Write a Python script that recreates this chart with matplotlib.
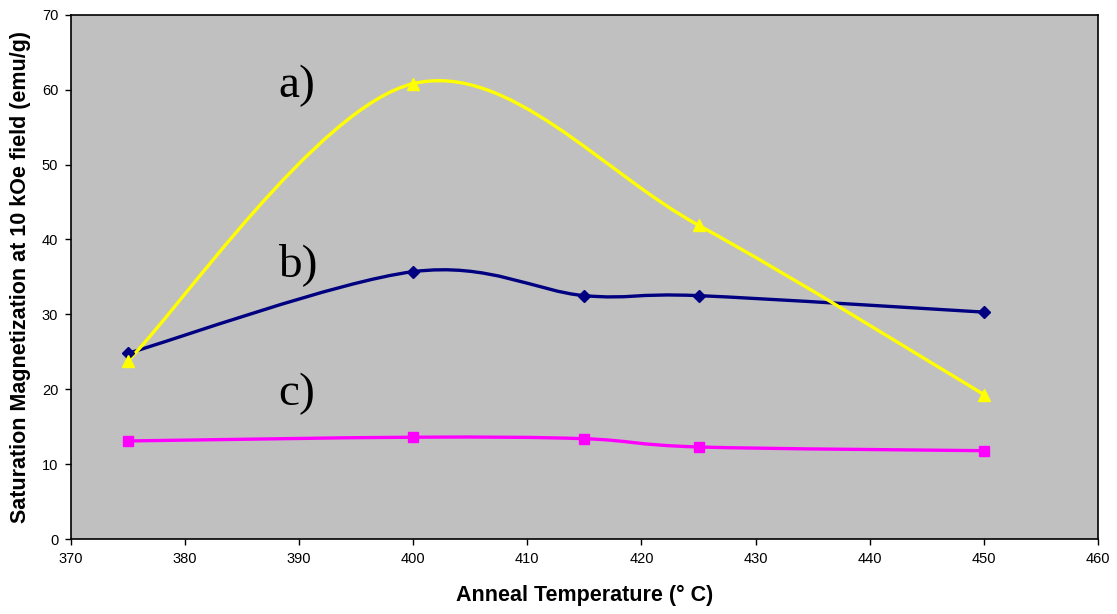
import matplotlib
matplotlib.use("Agg")
import matplotlib.pyplot as plt
from matplotlib.path import Path
from matplotlib.patches import PathPatch

# values
temp_a = [375, 400, 425, 450]
mag_a = [23.8, 60.8, 41.9, 19.3]

temp_b = [375, 400, 415, 425, 450]
mag_b = [24.8, 35.7, 32.5, 32.5, 30.3]

temp_c = [375, 400, 415, 425, 450]
mag_c = [13.1, 13.6, 13.4, 12.3, 11.8]

x_ticks = list(range(370, 461, 10))
y_ticks = list(range(0, 71, 10))


def smooth_path(xs, ys):
    # Excel-style smoothed line: Catmull-Rom turned into cubic Bezier segments
    pts = list(zip(xs, ys))
    n = len(pts)
    verts = [pts[0]]
    codes = [Path.MOVETO]
    for i in range(n - 1):
        p0 = pts[i - 1] if i > 0 else pts[i]
        p1 = pts[i]
        p2 = pts[i + 1]
        p3 = pts[i + 2] if i + 2 < n else pts[i + 1]
        c1 = (p1[0] + (p2[0] - p0[0]) / 6.0, p1[1] + (p2[1] - p0[1]) / 6.0)
        c2 = (p2[0] - (p3[0] - p1[0]) / 6.0, p2[1] - (p3[1] - p1[1]) / 6.0)
        verts += [c1, c2, p2]
        codes += [Path.CURVE4, Path.CURVE4, Path.CURVE4]
    return Path(verts, codes)


fig = plt.figure(figsize=(11.17, 6.14), dpi=100)
ax = fig.add_axes([0.0633, 0.122, 0.9197, 0.854])
ax.set_facecolor("#C0C0C0")

series = [
    (temp_b, mag_b, "#000080", "D", 6.5),
    (temp_c, mag_c, "#FF00FF", "s", 7),
    (temp_a, mag_a, "#FFFF00", "^", 8),
]
for xs, ys, col, mk, ms in series:
    ax.add_patch(PathPatch(smooth_path(xs, ys), facecolor="none",
                           edgecolor=col, lw=2.4, zorder=3))
    ax.plot(xs, ys, linestyle="none", marker=mk, color=col, ms=ms,
            markeredgecolor=col, zorder=4)

ax.set_xlim(370, 460)
ax.set_ylim(0, 70)
ax.set_xticks(x_ticks)
ax.set_yticks(y_ticks)
ax.tick_params(direction="out", length=4, width=1, labelsize=10.5, pad=5)
for lab in ax.get_xticklabels() + ax.get_yticklabels():
    lab.set_family("Liberation Sans")
for sp in ax.spines.values():
    sp.set_color("black")
    sp.set_linewidth(1.2)

ax.set_xlabel("Anneal Temperature (° C)", family="Liberation Sans",
              fontsize=15.5, fontweight="bold", labelpad=14)
ax.set_ylabel("Saturation Magnetization at 10 kOe field (emu/g)",
              family="Liberation Sans", fontsize=15.5, fontweight="bold",
              labelpad=8)

for txt, yy in [("a)", 60.5), ("b)", 36.7), ("c)", 19.4)]:
    ax.text(388.2, yy, txt, family="Liberation Serif", fontsize=34,
            ha="left", va="center", zorder=5)

fig.savefig("out.png", dpi=100)
